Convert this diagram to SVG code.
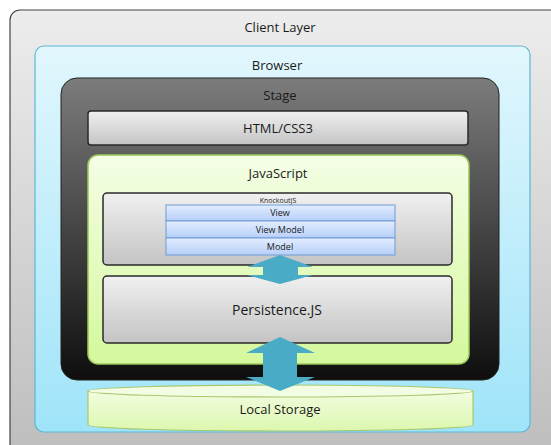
<svg xmlns="http://www.w3.org/2000/svg" width="551" height="445" viewBox="0 0 551 445">
<defs>
<linearGradient id="gClient" x1="0" y1="0" x2="0" y2="1"><stop offset="0" stop-color="#ededed"/><stop offset="1" stop-color="#bdbdbd"/></linearGradient>
<linearGradient id="gBrowser" x1="0" y1="0" x2="0" y2="1"><stop offset="0" stop-color="#e2f7fd"/><stop offset="1" stop-color="#9fe4f9"/></linearGradient>
<linearGradient id="gStage" x1="0" y1="0" x2="0" y2="1"><stop offset="0" stop-color="#7c7c7c"/><stop offset="1" stop-color="#0e0e0e"/></linearGradient>
<linearGradient id="gGray" x1="0" y1="0" x2="0" y2="1"><stop offset="0" stop-color="#f0f0f0"/><stop offset="1" stop-color="#c4c4c4"/></linearGradient>
<linearGradient id="gGreen" x1="0" y1="0" x2="0" y2="1"><stop offset="0" stop-color="#f4fee6"/><stop offset="1" stop-color="#d5f89c"/></linearGradient>
<linearGradient id="gBlue" x1="0" y1="0" x2="0" y2="1"><stop offset="0" stop-color="#e3edff"/><stop offset="1" stop-color="#b6cff8"/></linearGradient>
<linearGradient id="gCyl" x1="0" y1="0" x2="0" y2="1"><stop offset="0" stop-color="#f2fde0"/><stop offset="1" stop-color="#dcf7ae"/></linearGradient>
</defs>
<style>
text{font-family:"Open Sans","Liberation Sans",sans-serif;fill:#1a1a1a;text-anchor:middle}
.box{stroke:#2a2a2a;stroke-width:1.5}
.bar{fill:url(#gBlue);stroke:#6e9bd6;stroke-width:1}
.arrow{fill:#4aabc6}
</style>
<g id="client-layer">
<rect x="10" y="10" width="560" height="450" rx="10" fill="url(#gClient)" stroke="#444" stroke-width="1.2"/>
<text x="280" y="32" font-size="13">Client Layer</text>
</g>
<g id="browser">
<rect x="35" y="46" width="495" height="386" rx="9" fill="url(#gBrowser)" stroke="#5cb8d4" stroke-width="1.2"/>
<text x="277" y="70" font-size="13">Browser</text>
</g>
<g id="stage">
<rect x="61" y="78" width="438" height="302" rx="16" fill="url(#gStage)" stroke="#222" stroke-width="1"/>
<text x="280" y="100" font-size="13">Stage</text>
</g>
<g id="html-css3">
<rect x="88" y="111" width="380" height="34" rx="3" class="box" fill="url(#gGray)"/>
<text x="278" y="133" font-size="13">HTML/CSS3</text>
</g>
<g id="javascript">
<rect x="88" y="155" width="381" height="209" rx="10" fill="url(#gGreen)" stroke="#9cc65a" stroke-width="1.5"/>
<text x="278" y="178" font-size="13">JavaScript</text>
</g>
<g id="knockoutjs">
<rect x="103" y="193" width="349" height="72" rx="4" class="box" fill="url(#gGray)"/>
<text x="278" y="203" font-size="7">KnockoutJS</text>
</g>
<g id="view">
<rect x="166" y="205" width="229" height="16" class="bar"/>
<text x="280" y="216" font-size="9">View</text>
</g>
<g id="view-model">
<rect x="166" y="221" width="229" height="17" class="bar"/>
<text x="280" y="233" font-size="9">View Model</text>
</g>
<g id="model">
<rect x="166" y="238" width="229" height="17" class="bar"/>
<text x="280" y="250" font-size="9">Model</text>
</g>
<g id="persistence-js">
<rect x="103" y="276" width="349" height="67" rx="4" class="box" fill="url(#gGray)"/>
<text x="277" y="315" font-size="14">Persistence.JS</text>
</g>
<g id="local-storage">
<path d="M88,391 L88,425 A192.5,6 0 0 0 473,425 L473,391 Z" fill="url(#gCyl)" stroke="#a9c86c" stroke-width="1.2"/>
<ellipse cx="280.5" cy="391" rx="192.5" ry="6" fill="#f3fde3" stroke="#a9c86c" stroke-width="1.2"/>
<text x="280" y="414" font-size="13">Local Storage</text>
</g>
<g id="connectors">
<polygon class="arrow" points="280,255 313,267 298,267 298,275 313,275 280,284 247,275 263,275 263,267 247,267"/>
<polygon class="arrow" points="280,337 315,353 297,353 297,377 315,377 280,391 246,377 263,377 263,353 246,353"/>
</g>
</svg>
